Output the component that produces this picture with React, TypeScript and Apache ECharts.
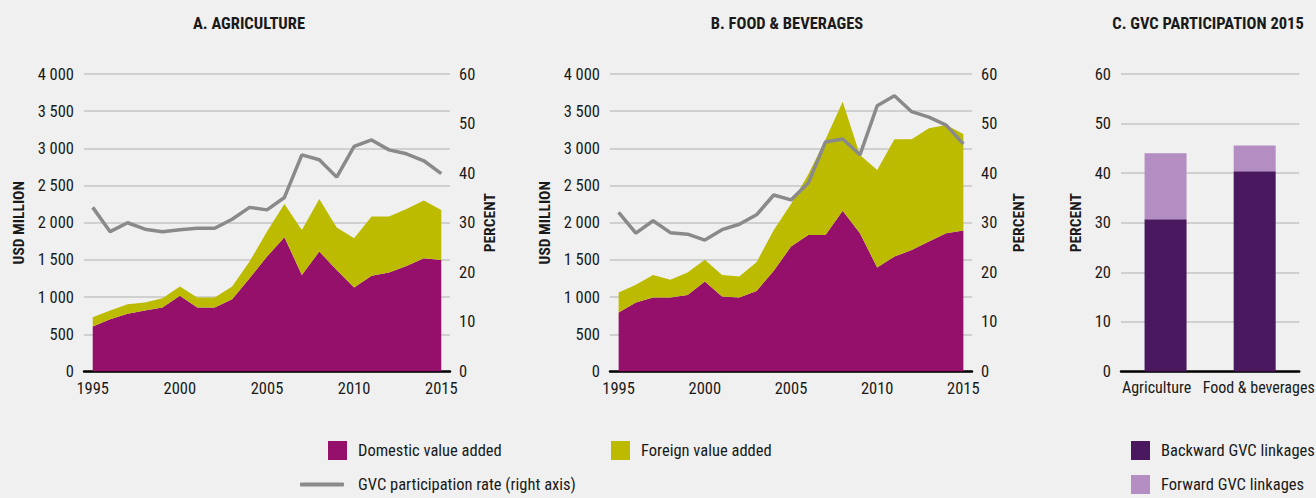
import React, { useEffect, useRef } from "react";
import * as echarts from "echarts";

const years = ["1995","1996","1997","1998","1999","2000","2001","2002","2003","2004","2005","2006","2007","2008","2009","2010","2011","2012","2013","2014","2015"];
const agriDomestic = [605,703,775,820,860,1017,860,860,972,1254,1545,1805,1299,1613,1366,1129,1286,1330,1420,1523,1500];
const agriForeign = [125,117,130,107,125,125,134,134,170,224,336,448,605,707,569,663,797,753,766,775,672];
const agriGvc = [33.1,28.2,30.0,28.7,28.2,28.6,28.9,28.9,30.7,33.1,32.6,35.1,43.7,42.7,39.2,45.4,46.7,44.7,43.9,42.5,39.9];
const foodDomestic = [793,927,994,994,1030,1209,1008,994,1084,1353,1680,1836,1836,2163,1859,1397,1545,1635,1747,1859,1895];
const foodForeign = [269,238,305,238,300,292,291,283,385,551,573,814,1284,1465,1052,1313,1577,1487,1523,1456,1299];
const foodGvc = [32.1,27.9,30.4,28.0,27.7,26.5,28.6,29.7,31.6,35.6,34.6,38.0,46.3,46.9,43.7,53.6,55.6,52.4,51.3,49.7,45.9];
const sectors = ["Agriculture", "Food & beverages"];
const backward = [30.7, 40.4];
const forward = [13.3, 5.2];
const titles = ["A. AGRICULTURE", "B. FOOD & BEVERAGES", "C. GVC PARTICIPATION 2015"];

const FONT = "'Roboto Condensed', 'Open Sans Condensed', sans-serif";
const INK = "#1a1a1a";
const MAGENTA = "#95106b";
const OLIVE = "#bcbb00";
const GRAY = "#8a8a8a";
const BACK = "#4a185f";
const FWD = "#b48ec3";
const GRID = "#c6c6c6";
const BG = "#f0f0f0";

const fmtK = (v: number) =>
  v >= 1000 ? `${Math.floor(v / 1000)} ${String(v % 1000).padStart(3, "0")}` : String(v);

const N_DOM = "Domestic value added";
const N_FOR = "Foreign value added";
const N_GVC = "GVC participation rate (right axis)";
const N_BACK = "Backward GVC linkages";
const N_FWD = "Forward GVC linkages";

export default function App() {
  const ref = useRef<HTMLDivElement>(null);
  useEffect(() => {
    if (!ref.current) return;
    const chart = echarts.init(ref.current, undefined, { renderer: "svg" });
    const labelStyle = { color: INK, fontFamily: FONT, fontSize: 16.5 };
    const nameStyle = { color: INK, fontFamily: FONT, fontSize: 15.5, fontWeight: "bold" as const };
    const axisLine = { lineStyle: { color: "#000", width: 2.5 } };
    const catX = (gridIndex: number) => ({
      type: "category" as const,
      gridIndex,
      data: years,
      boundaryGap: true,
      axisLine,
      axisTick: { alignWithLabel: true, interval: 0, length: 4, lineStyle: { color: "#000", width: 1.5 } },
      axisLabel: { ...labelStyle, interval: 4, margin: 8 },
    });
    const leftY = (gridIndex: number, name: string, max: number, interval: number, fmt: ((v: number) => string) | undefined, gap: number) => ({
      type: "value" as const,
      gridIndex,
      min: 0,
      max,
      interval,
      name,
      nameLocation: "middle" as const,
      nameRotate: 90,
      nameGap: gap,
      nameTextStyle: nameStyle,
      axisLine: { show: false },
      axisTick: { show: false },
      axisLabel: { ...labelStyle, margin: 10, formatter: fmt },
      splitLine: { lineStyle: { color: GRID, width: 1.5 } },
    });
    const rightY = (gridIndex: number, gap: number) => ({
      type: "value" as const,
      gridIndex,
      position: "right" as const,
      min: 0,
      max: 60,
      interval: 10,
      name: "PERCENT",
      nameLocation: "middle" as const,
      nameRotate: 90,
      nameGap: gap,
      nameTextStyle: nameStyle,
      axisLine: { show: false },
      axisTick: { show: false },
      axisLabel: { ...labelStyle, margin: 9 },
      splitLine: { show: false },
    });
    const area = (name: string, data: number[], color: string, xi: number, yi: number, stack: string) => ({
      type: "line" as const,
      name,
      data,
      xAxisIndex: xi,
      yAxisIndex: yi,
      stack,
      symbol: "none",
      lineStyle: { width: 0 },
      itemStyle: { color },
      areaStyle: { color, opacity: 1 },
      z: 2,
    });
    const gvc = (data: number[], xi: number, yi: number) => ({
      type: "line" as const,
      name: N_GVC,
      data,
      xAxisIndex: xi,
      yAxisIndex: yi,
      symbol: "none",
      lineStyle: { color: GRAY, width: 3.5 },
      itemStyle: { color: GRAY },
      z: 5,
    });
    const legendText = { color: INK, fontFamily: FONT, fontSize: 16.5, padding: [0, 0, 0, 6] };
    const sqLegend = (name: string, left: number, top: number) => ({
      data: [name],
      left,
      top,
      orient: "horizontal" as const,
      icon: "rect",
      itemWidth: 19,
      itemHeight: 19,
      padding: 0,
      selectedMode: false,
      textStyle: legendText,
    });
    const titleText = (text: string, x: number) => ({
      type: "text" as const,
      x,
      y: 23,
      style: {
        text,
        align: "center",
        verticalAlign: "middle",
        fill: INK,
        font: `bold 16.5px ${FONT}`,
      },
    });

    chart.setOption({
      animation: false,
      backgroundColor: BG,
      textStyle: { fontFamily: FONT },
      grid: [
        { left: 84, top: 74, width: 366, height: 297.5 },
        { left: 610, top: 74, width: 362, height: 297.5 },
        { left: 1121, top: 74, width: 185, height: 297.5 },
      ],
      graphic: [titleText(titles[0], 249), titleText(titles[1], 787), titleText(titles[2], 1208)],
      legend: [
        sqLegend(N_DOM, 328, 441),
        sqLegend(N_FOR, 611, 441),
        {
          data: [{ name: N_GVC, icon: "roundRect", itemStyle: { color: GRAY } }],
          left: 300,
          top: 476,
          itemWidth: 44,
          itemHeight: 4,
          padding: 0,
          selectedMode: false,
          textStyle: { ...legendText, padding: [0, 0, 0, 9] },
        },
        sqLegend(N_BACK, 1131, 441),
        sqLegend(N_FWD, 1131, 475),
      ],
      xAxis: [
        catX(0),
        catX(1),
        {
          type: "category",
          gridIndex: 2,
          data: sectors,
          boundaryGap: true,
          axisLine,
          axisTick: { show: false },
          axisLabel: {
            ...labelStyle,
            fontSize: 16,
            interval: 0,
            margin: 8,
            formatter: (v: string, i: number) => (i === 0 ? `{a|${v}}` : `{b|${v}}`),
            rich: {
              a: { fontFamily: FONT, fontSize: 16, color: INK, padding: [0, 18, 0, 0] },
              b: { fontFamily: FONT, fontSize: 16, color: INK, padding: [0, 0, 0, 8] },
            },
          },
        },
      ],
      yAxis: [
        leftY(0, "USD MILLION", 4000, 500, fmtK, 57),
        rightY(0, 32),
        leftY(1, "USD MILLION", 4000, 500, fmtK, 57),
        rightY(1, 39),
        leftY(2, "PERCENT", 60, 10, undefined, 37),
      ],
      series: [
        area(N_DOM, agriDomestic, MAGENTA, 0, 0, "a"),
        area(N_FOR, agriForeign, OLIVE, 0, 0, "a"),
        gvc(agriGvc, 0, 1),
        area(N_DOM, foodDomestic, MAGENTA, 1, 2, "b"),
        area(N_FOR, foodForeign, OLIVE, 1, 2, "b"),
        gvc(foodGvc, 1, 3),
        {
          type: "bar",
          name: N_BACK,
          xAxisIndex: 2,
          yAxisIndex: 4,
          stack: "c",
          barWidth: 42,
          itemStyle: { color: BACK },
          data: backward,
        },
        {
          type: "bar",
          name: N_FWD,
          xAxisIndex: 2,
          yAxisIndex: 4,
          stack: "c",
          barWidth: 42,
          itemStyle: { color: FWD },
          data: forward,
        },
      ],
    });
    return () => chart.dispose();
  }, []);
  return (
    <div
      ref={ref}
      style={{ position: "fixed", left: 0, top: 0, width: 1316, height: 498, background: BG }}
    />
  );
}
